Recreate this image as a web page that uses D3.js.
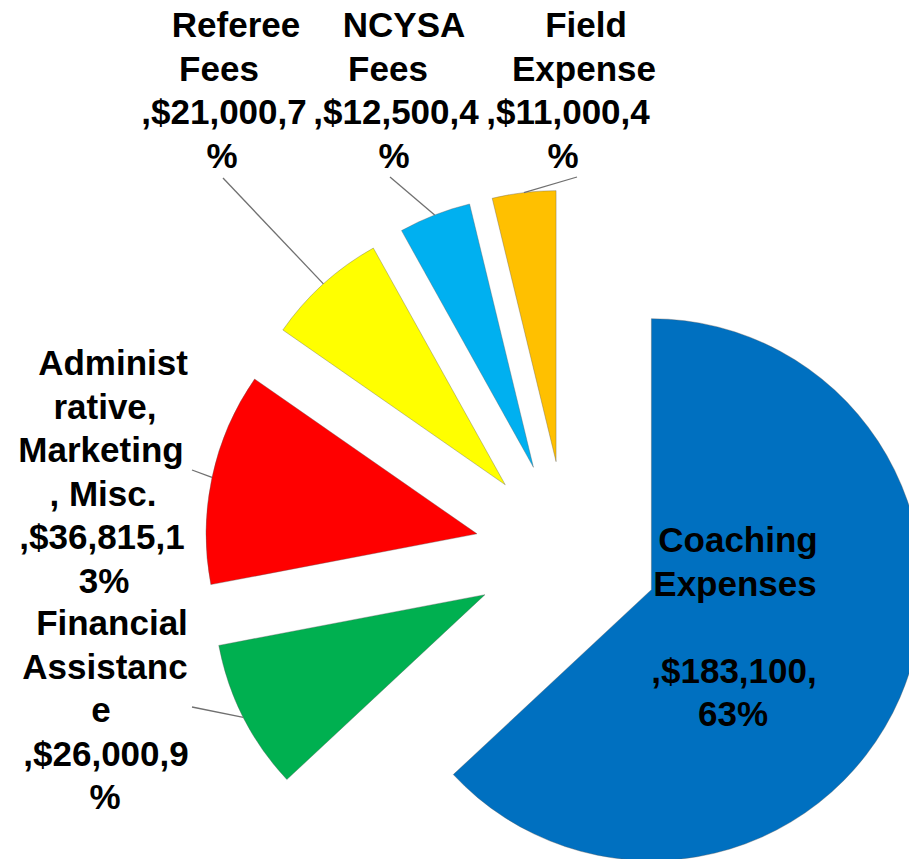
<!DOCTYPE html>
<html>
<head>
<meta charset="utf-8">
<title>Expenses</title>
<script src="https://d3js.org/d3.v7.min.js"></script>
<style type="text/css">
    body { margin: 0; background-color: white; }
    svg { display: block; }
    .lbl { font-family: "Liberation Sans", Arial, sans-serif; font-weight: bold; font-size: 35px; fill: black; }
    .leader { stroke: #707070; stroke-width: 1.3px; fill: none; }
</style>
</head>
<body>
<script type="text/javascript">
// data
var categories = ["Coaching Expenses", "Financial Assistance", "Administrative, Marketing, Misc.", "Referee Fees", "NCYSA Fees", "Field Expense"];
var amounts = [183100, 26000, 36815, 21000, 12500, 11000];
var colors = ["#0070C0", "#00B050", "#FF0000", "#FFFF00", "#00B0F0", "#FFC000"];

// label text as wrapped in the picture
var labelLines = [
    ["Coaching", "Expenses", "", ",$183,100,", "63%"],
    ["Financial", "Assistanc", "e", ",$26,000,9", "%"],
    ["Administ", "rative,", "Marketing", ", Misc.", ",$36,815,1", "3%"],
    ["Referee", "Fees", ",$21,000,7", "%"],
    ["NCYSA", "Fees", ",$12,500,4", "%"],
    ["Field", "Expense", ",$11,000,4", "%"]
];

// label layout: centre x, first baseline, per line x shift, leader start (null = none)
var labelPos = [
    {x: 735, y: 552, dx: [3, 0, 0, -1, -2], lead: null},
    {x: 106, y: 635, dx: [6, -1, -5, 0, -1], lead: [192, 707]},
    {x: 104, y: 375, dx: [9, 1, -3, -1, -2, 0], lead: [192, 470]},
    {x: 224, y: 37, dx: [12, -5, 0, -2], lead: [223, 178]},
    {x: 396, y: 37, dx: [8, -8, 0, -2], lead: [390, 177]},
    {x: 568, y: 37, dx: [18, 16, 0, -5], lead: [577, 177]}
];

var width = 909, height = 859;
var cx = 567, cy = 553, R = 271, explode = 92, lineH = 43.5;

var svg = d3.select("body").append("svg")
    .attr("width", width)
    .attr("height", height);

var pie = d3.pie().sort(null).value(function(d) { return d; });
var arcs = pie(amounts);
var arc = d3.arc().innerRadius(0).outerRadius(R);

function mid(d) { return (d.startAngle + d.endAngle) / 2; }
function off(d) { return [explode * Math.sin(mid(d)), -explode * Math.cos(mid(d))]; }

var g = svg.append("g").attr("transform", "translate(" + cx + "," + cy + ")");

g.selectAll("path.slice")
    .data(arcs)
    .enter().append("path")
    .attr("class", "slice")
    .attr("d", arc)
    .attr("transform", function(d) { var o = off(d); return "translate(" + o[0] + "," + o[1] + ")"; })
    .style("fill", function(d, i) { return colors[i]; })
    .style("stroke", "rgba(90,90,90,0.45)")
    .style("stroke-width", 0.8);

// leader lines, to the middle of each slice's outer edge
arcs.forEach(function(d, i) {
    var p = labelPos[i];
    if (!p.lead) return;
    var o = off(d);
    var ex = cx + o[0] + R * Math.sin(mid(d));
    var ey = cy + o[1] - R * Math.cos(mid(d));
    svg.append("line")
        .attr("class", "leader")
        .attr("x1", p.lead[0]).attr("y1", p.lead[1])
        .attr("x2", ex).attr("y2", ey);
});

// labels
labelLines.forEach(function(lines, i) {
    var p = labelPos[i];
    var t = svg.append("text").attr("class", "lbl").attr("text-anchor", "middle");
    lines.forEach(function(s, j) {
        t.append("tspan")
            .attr("x", p.x + (p.dx[j] || 0))
            .attr("y", p.y + j * lineH)
            .text(s);
    });
});
</script>
</body>
</html>
